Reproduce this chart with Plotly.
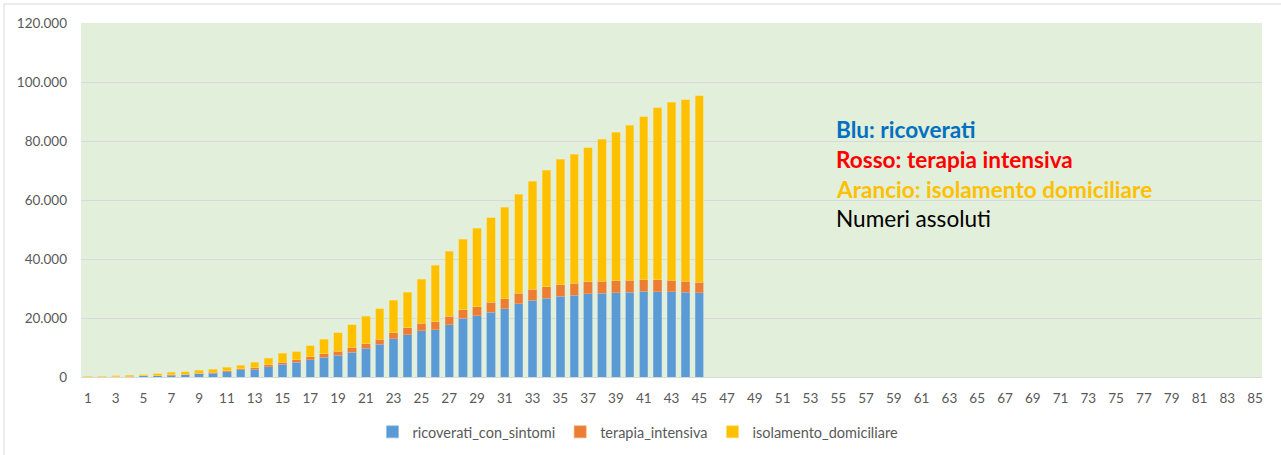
import plotly.graph_objects as go

days = list(range(1, 46))
ricoverati_con_sintomi = [101, 114, 128, 248, 345, 401, 639, 742, 1034, 1346, 1790, 2394, 2651, 3557,
                          4316, 5038, 5838, 6650, 7426, 8372, 9663, 11025, 12894, 14363, 15757, 16020,
                          17708, 19846, 20692, 21937, 23112, 24753, 26029, 26676, 27386, 27795, 28192,
                          28403, 28540, 28741, 29010, 28949, 28976, 28718, 28485]
terapia_intensiva = [26, 35, 36, 56, 64, 105, 140, 166, 229, 295, 351, 462, 567, 650, 733, 877, 1028,
                     1153, 1328, 1518, 1672, 1851, 2060, 2257, 2498, 2655, 2857, 3009, 3204, 3396, 3489,
                     3612, 3732, 3856, 3906, 3981, 4023, 4035, 4053, 4068, 3994, 3977, 3898, 3792, 3693]
isolamento_domiciliare = [94, 162, 221, 284, 412, 543, 798, 927, 1000, 1065, 1155, 1060, 1843, 2180,
                          2936, 2599, 3724, 5036, 6201, 7860, 9268, 10197, 11108, 12090, 14935, 19185,
                          22116, 23783, 26522, 28697, 30920, 33648, 36653, 39533, 42588, 43752, 45420,
                          48134, 50456, 52579, 55270, 58320, 60313, 61557, 63084]
x_ticks = list(range(1, 86, 2))
series_names = ["ricoverati_con_sintomi", "terapia_intensiva", "isolamento_domiciliare"]
series_colors = ["#5B9BD5", "#ED7D31", "#FFC000"]
edge_colors = ["#8DB8E3", "#F2A477", "#FFD966"]
note_lines = ["Blu: ricoverati", "Rosso: terapia intensiva", "Arancio: isolamento domiciliare", "Numeri assoluti"]
note_colors = ["#0070C0", "#FF0000", "#FFC000", "#000000"]
note_bold = [True, True, True, False]

FONT = "Lato"
W, H = 1281, 455
plot_l, plot_r, plot_t, plot_b = 81, 1262, 23, 377
plot_w, plot_h = plot_r - plot_l, plot_b - plot_t

fig = go.Figure()
for name, vals, col, ecol in zip(series_names,
                                 [ricoverati_con_sintomi, terapia_intensiva, isolamento_domiciliare],
                                 series_colors, edge_colors):
    fig.add_trace(go.Bar(x=days, y=vals, name=name,
                         marker=dict(color=col, line=dict(color=ecol, width=0.6))))

for i, (t, c, b) in enumerate(zip(note_lines, note_colors, note_bold)):
    py = 130 + i * 29.6
    fig.add_annotation(x=(834 - plot_l) / plot_w, y=1 - (py - plot_t) / plot_h, xref="paper", yref="paper",
                       text=("<b>%s</b>" % t) if b else t,
                       showarrow=False, xanchor="left", yanchor="middle",
                       font=dict(family=FONT, size=22.6, color=c))

fig.update_layout(
    barmode="stack",
    bargap=0.4,
    width=W, height=H,
    margin=dict(l=plot_l, r=W - plot_r, t=plot_t, b=H - plot_b, autoexpand=False),
    paper_bgcolor="white",
    plot_bgcolor="#E2EFDA",
    separators=",.",
    font=dict(family=FONT, size=13.5, color="#595959"),
    showlegend=True,
    legend=dict(orientation="h", x=(638 - plot_l) / plot_w, xanchor="center", y=-0.11, yanchor="top",
                font=dict(family=FONT, size=14.5, color="#595959"),
                traceorder="normal", itemwidth=30),
    xaxis=dict(range=[0.5, 85.5], tickmode="array", tickvals=x_ticks, ticktext=[str(v) for v in x_ticks],
               showgrid=False, zeroline=False, showline=True, linecolor="#D9D9D9", linewidth=1,
               ticks="", ticklabelstandoff=9, automargin=False,
               tickfont=dict(family=FONT, size=13.5, color="#595959")),
    yaxis=dict(range=[0, 120000], dtick=20000, tickformat=",d", showgrid=True, gridcolor="#D9D9D9",
               gridwidth=1, zeroline=False, showline=False, ticks="", ticklabelstandoff=13, automargin=False,
               tickfont=dict(family=FONT, size=13.5, color="#595959")),
)

fig.add_shape(type="rect", xref="paper", yref="paper",
              x0=(4 - plot_l) / plot_w, x1=(1300 - plot_l) / plot_w,
              y0=(plot_b - 470) / plot_h, y1=(plot_b - 4) / plot_h,
              line=dict(color="#D9D9D9", width=1), fillcolor="rgba(0,0,0,0)", layer="below")

fig.write_html("out.html", config={"displayModeBar": False},
               post_script="document.body.style.margin='0';document.body.style.overflow='hidden';")
